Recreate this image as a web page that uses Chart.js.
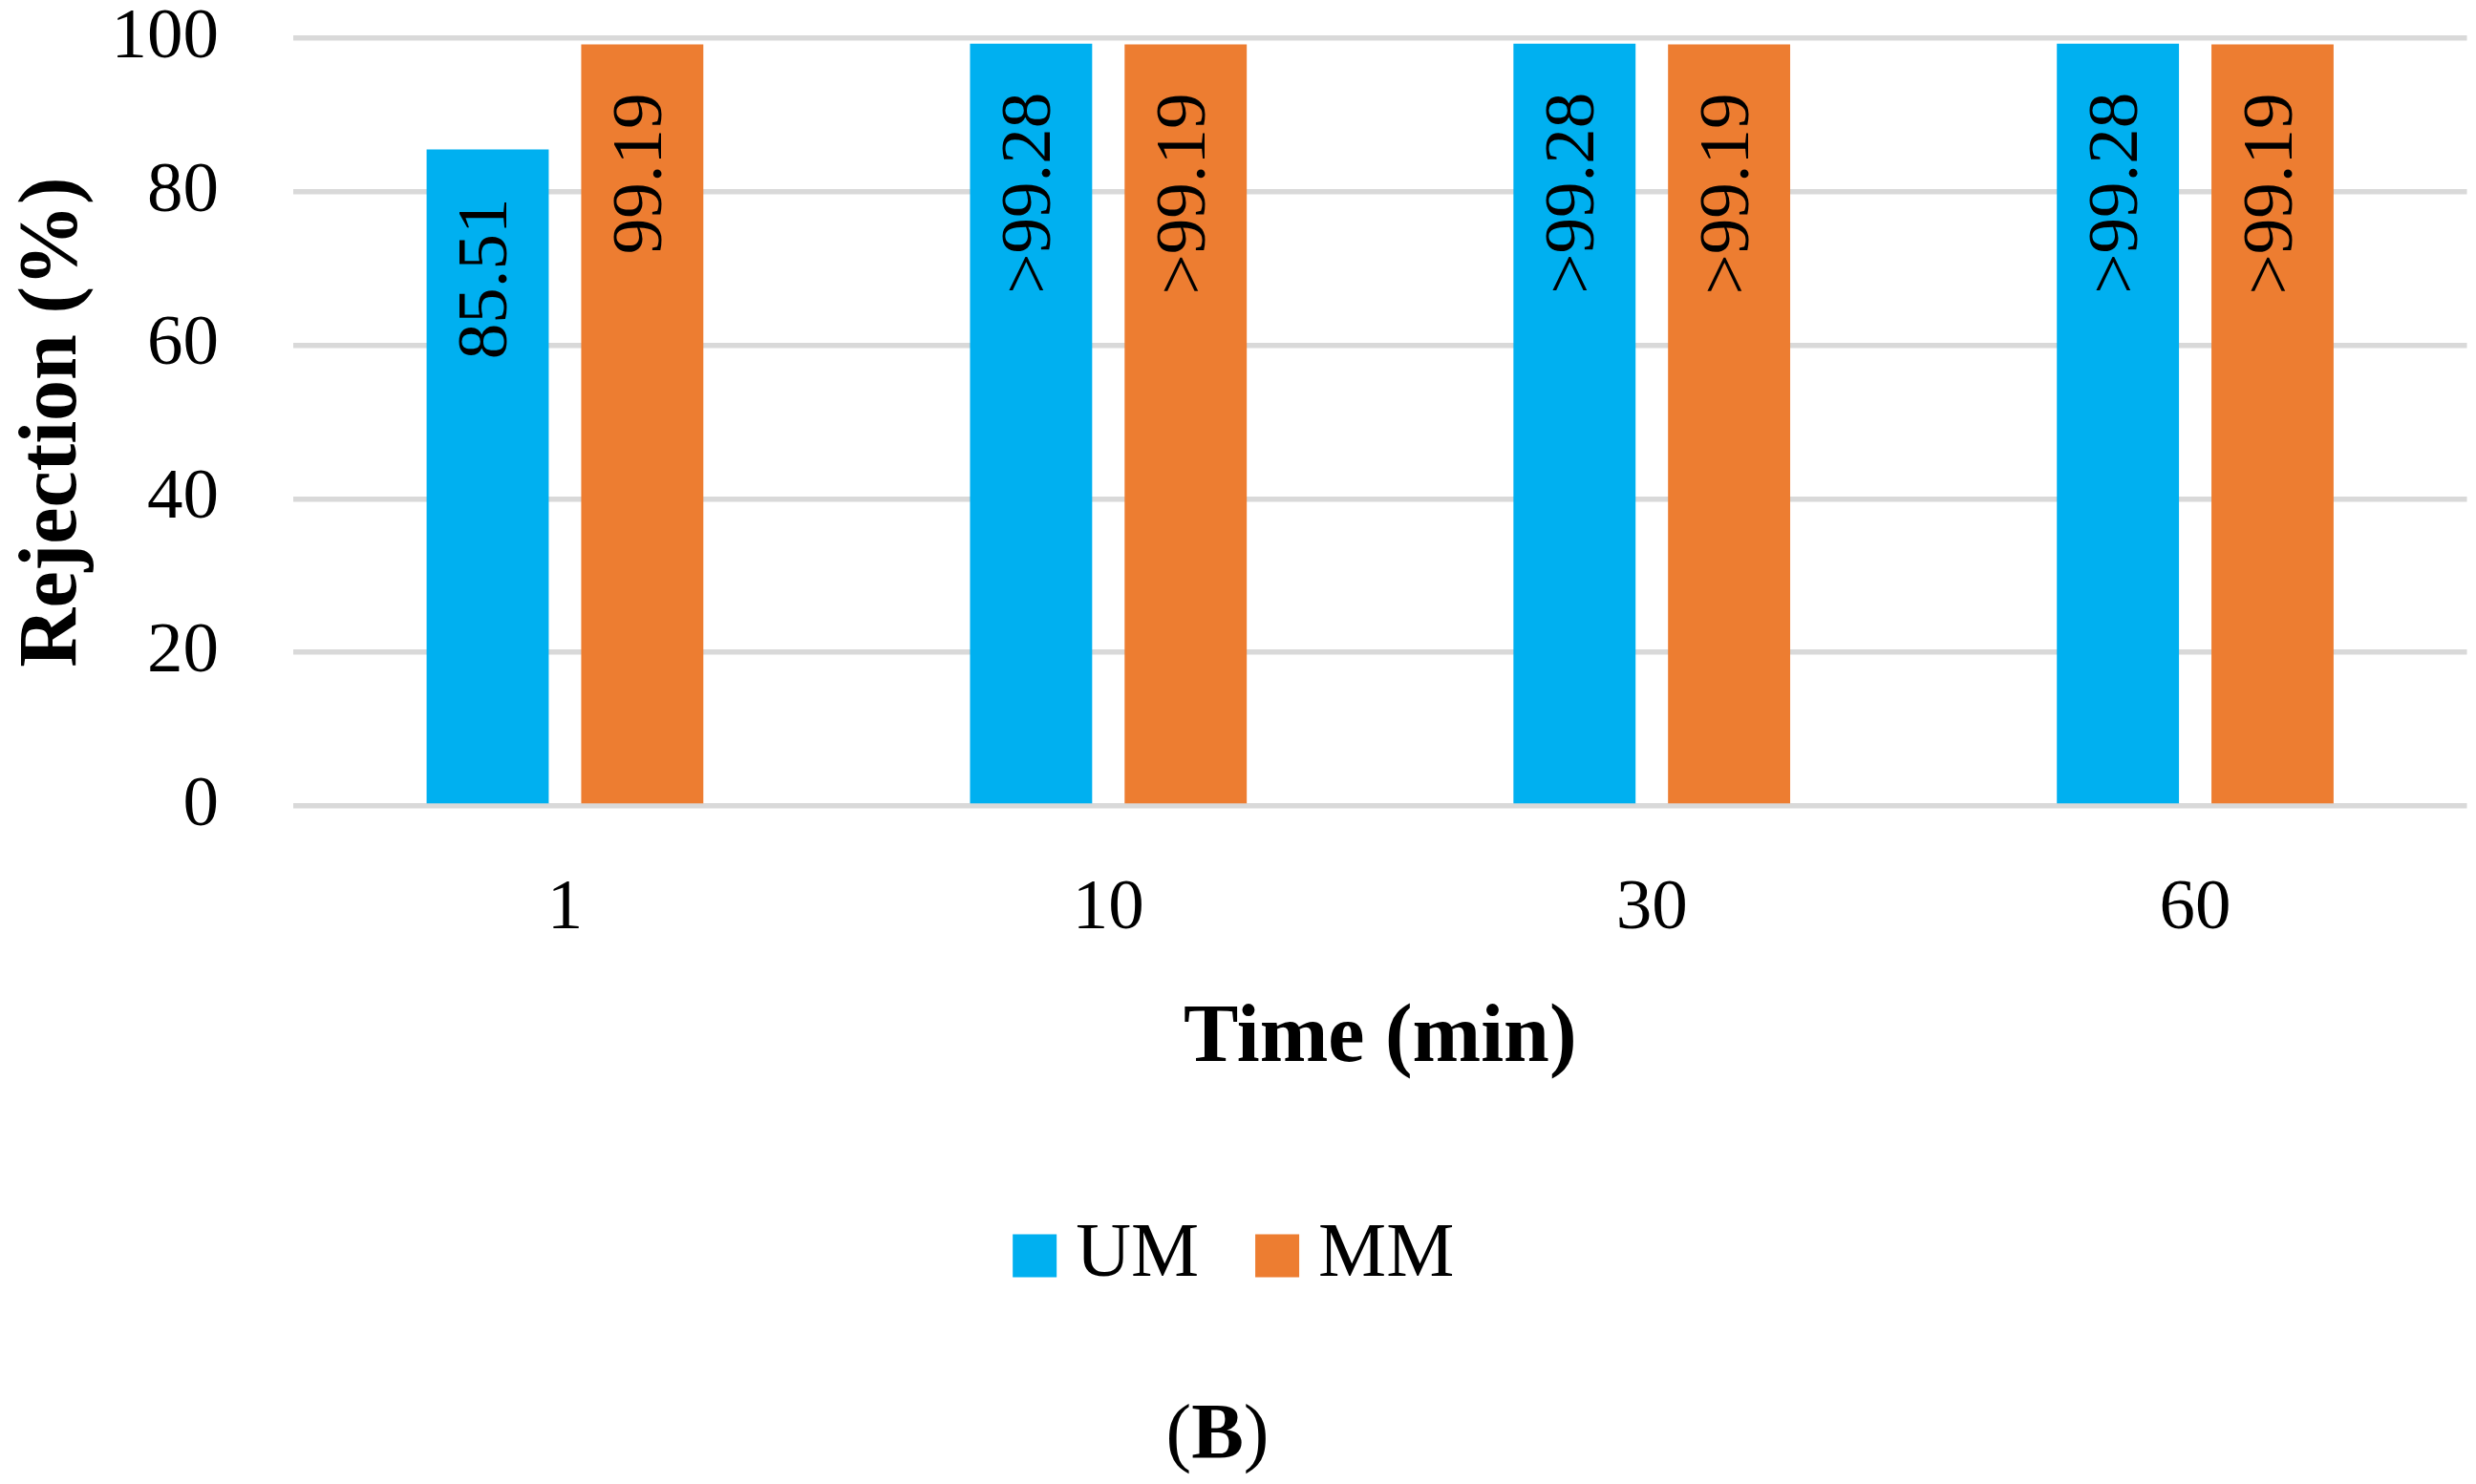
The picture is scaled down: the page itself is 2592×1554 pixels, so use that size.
<!DOCTYPE html>
<html><head><meta charset="utf-8">
<script src="https://cdn.jsdelivr.net/npm/chart.js@4.4.0/dist/chart.umd.min.js"></script>
<style>html,body{margin:0;padding:0;background:#fff;overflow:hidden;}</style>
</head><body>
<canvas id="c" width="2592" height="1554"></canvas>
<script>
const categories = ['1', '10', '30', '60'];
const seriesNames = ['UM', 'MM'];
const umValues = [85.51, 99.28, 99.28, 99.28];
const mmValues = [99.19, 99.19, 99.19, 99.19];
const umLabels = ['85.51', '>99.28', '>99.28', '>99.28'];
const mmLabels = ['99.19', '>99.19', '>99.19', '>99.19'];
const yTicks = [0, 20, 40, 60, 80, 100];
const yTitle = 'Rejection (%)';
const xTitle = 'Time (min)';
const captionParts = ['(', 'B', ')'];

const FONT = '"Liberation Serif", "Times New Roman", serif';
const barLabels = [umLabels, mmLabels];

const valueLabelPlugin = {
  id: 'valueLabels',
  afterDatasetsDraw(chart) {
    const ctx = chart.ctx;
    chart.data.datasets.forEach((ds, di) => {
      const meta = chart.getDatasetMeta(di);
      meta.data.forEach((el, i) => {
        ctx.save();
        ctx.translate(el.x, el.y + 51);
        ctx.rotate(-Math.PI / 2);
        ctx.font = '75px ' + FONT;
        ctx.fillStyle = '#000';
        ctx.textAlign = 'right';
        ctx.textBaseline = 'middle';
        ctx.fillText(barLabels[di][i], 0, 0);
        ctx.restore();
      });
    });
  }
};

const captionPlugin = {
  id: 'caption',
  afterDraw(chart) {
    const ctx = chart.ctx;
    ctx.save();
    const fonts = ['80px ' + FONT, 'bold 82px ' + FONT, '80px ' + FONT];
    const widths = captionParts.map((t, i) => { ctx.font = fonts[i]; return ctx.measureText(t).width; });
    const total = widths.reduce((a, b) => a + b, 0);
    let x = chart.width / 2 - 21.5 - total / 2;
    const y = chart.height - 28;
    ctx.fillStyle = '#000';
    ctx.textBaseline = 'alphabetic';
    ctx.textAlign = 'left';
    captionParts.forEach((t, i) => { ctx.font = fonts[i]; ctx.fillText(t, x, y); x += widths[i]; });
    ctx.restore();
  }
};

new Chart(document.getElementById('c'), {
  type: 'bar',
  data: {
    labels: categories,
    datasets: [
      { label: seriesNames[0], data: umValues, backgroundColor: '#00B0F0', borderWidth: 0 },
      { label: seriesNames[1], data: mmValues, backgroundColor: '#ED7D31', borderWidth: 0 }
    ]
  },
  options: {
    responsive: false,
    animation: false,
    devicePixelRatio: 1,
    categoryPercentage: 0.569,
    barPercentage: 0.79,
    layout: { padding: { left: 20, right: 9.5, top: 40, bottom: 189 } },
    plugins: {
      tooltip: { enabled: false },
      legend: {
        position: 'bottom',
        labels: {
          font: { family: FONT, size: 80, lineHeight: 1 },
          color: '#000',
          boxWidth: 6,
          boxHeight: 5,
          padding: 79,
          generateLabels: (chart) => chart.data.datasets.map((ds, i) => ({
            text: ds.label, fillStyle: ds.backgroundColor, strokeStyle: ds.backgroundColor,
            lineWidth: 40, lineJoin: 'miter', lineCap: 'butt', hidden: false, datasetIndex: i
          }))
        }
      }
    },
    scales: {
      x: {
        grid: { display: false, drawTicks: false },
        border: { display: false },
        ticks: { font: { family: FONT, size: 75, lineHeight: 1 }, color: '#000', padding: 71 },
        title: { display: true, text: xTitle, color: '#000',
                 font: { family: FONT, size: 86, weight: 'bold', lineHeight: 1 },
                 padding: { top: 0, bottom: 64 } },
        afterFit: (s) => { s.height = 352; }
      },
      y: {
        min: 0, max: 100,
        afterBuildTicks: (s) => { s.ticks = yTicks.map(v => ({ value: v })); },
        grid: { color: '#D9D9D9', lineWidth: 5.5, drawTicks: false },
        border: { display: false },
        ticks: { font: { family: FONT, size: 75, lineHeight: 1 }, color: '#000', padding: 78 },
        title: { display: true, text: yTitle, color: '#000',
                 font: { family: FONT, size: 86, weight: 'bold', lineHeight: 1 },
                 padding: { top: -6, bottom: 0 } },
        afterFit: (s) => { s.width = 287; s.paddingTop = 0; s.paddingBottom = 0; }
      }
    }
  },
  plugins: [valueLabelPlugin, captionPlugin]
});
</script>
</body></html>
